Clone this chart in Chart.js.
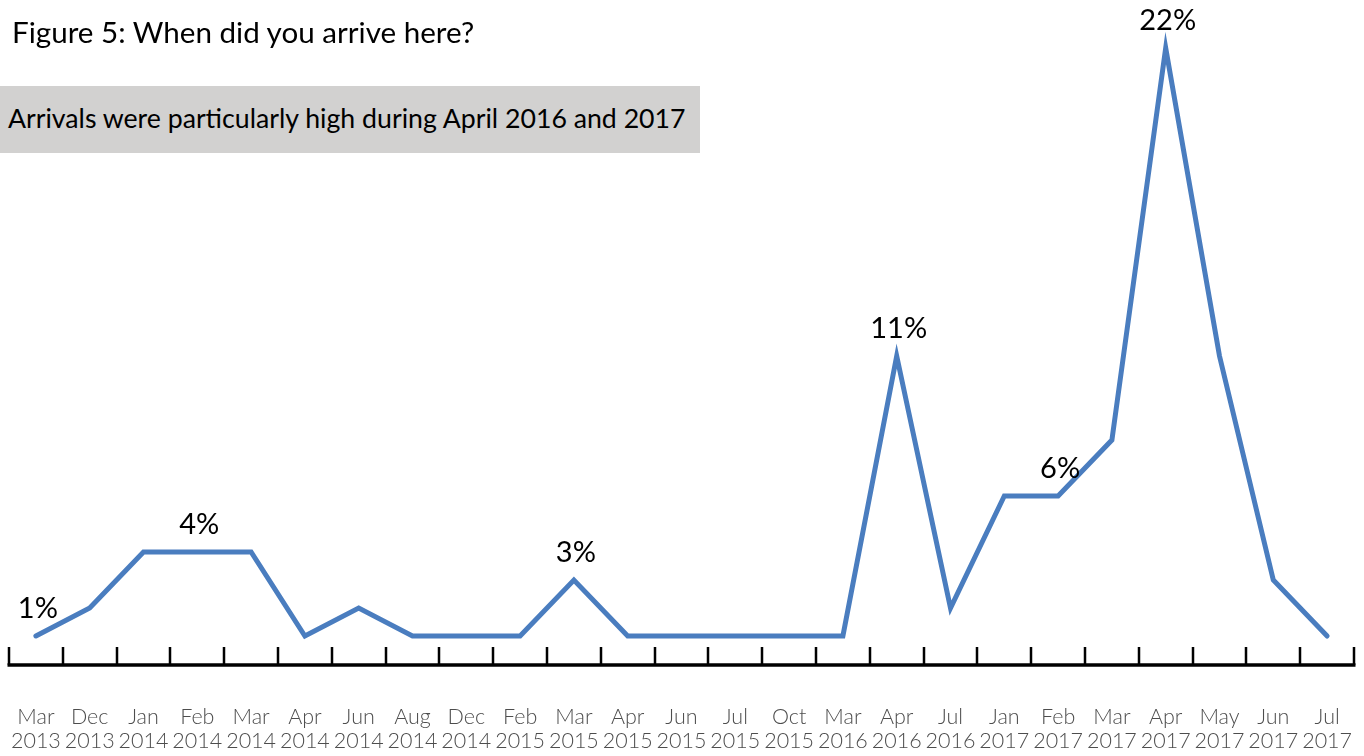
<!DOCTYPE html>
<html>
<head>
<meta charset="utf-8">
<title>Figure 5</title>
<script src="https://cdn.jsdelivr.net/npm/chart.js@4.4.1/dist/chart.umd.min.js"></script>
<style>
    body { margin: 0; background: #fff; font-family: Lato, "Open Sans", sans-serif; }
    #wrap { position: relative; width: 1364px; height: 756px; }
    #title { position: absolute; left: 12px; top: 14px; font-size: 29.6px; line-height: 36px; color: #000; }
    #note { position: absolute; left: 0; top: 86px; width: 700px; height: 67px; background: #d2d1d0;
            font-size: 26.7px; line-height: 64px; padding-left: 8px; box-sizing: border-box; color: #000; }
    canvas { position: absolute; left: 0; top: 0; }
</style>
</head>
<body>
<div id="wrap">
    <canvas id="arrivals-chart" width="1364" height="756"></canvas>
    <div id="title">Figure 5: When did you arrive here?</div>
    <div id="note">Arrivals were particularly high during April 2016 and 2017</div>
</div>
<script>
const months = ["Mar", "Dec", "Jan", "Feb", "Mar", "Apr", "Jun", "Aug", "Dec", "Feb", "Mar", "Apr", "Jun",
    "Jul", "Oct", "Mar", "Apr", "Jul", "Jan", "Feb", "Mar", "Apr", "May", "Jun", "Jul"];
const years = ["2013", "2013", "2014", "2014", "2014", "2014", "2014", "2014", "2014", "2015", "2015", "2015", "2015",
    "2015", "2015", "2016", "2016", "2016", "2017", "2017", "2017", "2017", "2017", "2017", "2017"];
// share of respondents (%) arriving in each month
const arrivals = [1, 2, 4, 4, 4, 1, 2, 1, 1, 1, 3, 1, 1, 1, 1, 1, 11, 2, 6, 6, 8, 22, 11, 3, 1];
// points that get a value label
const labelledPoints = [0, 3, 10, 16, 19, 21];

const labels = months.map((m, i) => [m, years[i]]);

// axis line with short upward ticks between the months, plus value labels
const axisAndLabels = {
    id: "axisAndLabels",
    afterDatasetsDraw(chart) {
        const ctx = chart.ctx;
        const area = chart.chartArea;
        const x = chart.scales.x;
        const step = x.getPixelForValue(1) - x.getPixelForValue(0);
        const axisY = area.bottom + 1;
        ctx.save();
        ctx.strokeStyle = "#000";
        ctx.lineCap = "butt";
        ctx.lineWidth = 3.5;
        ctx.beginPath();
        ctx.moveTo(area.left - 1.5, axisY);
        ctx.lineTo(area.right + 1.5, axisY);
        ctx.stroke();
        ctx.lineWidth = 2.5;
        ctx.beginPath();
        for (let i = 0; i <= months.length; i++) {
            const tx = Math.round(x.getPixelForValue(i) - step / 2);
            ctx.moveTo(tx, axisY);
            ctx.lineTo(tx, axisY - 18);
        }
        ctx.stroke();

        const meta = chart.getDatasetMeta(0);
        ctx.fillStyle = "#000";
        ctx.font = "29px Lato";
        ctx.textAlign = "center";
        ctx.textBaseline = "alphabetic";
        labelledPoints.forEach(i => {
            const pt = meta.data[i];
            ctx.fillText(arrivals[i] + "%", pt.x + 2, pt.y - 18);
        });
        ctx.restore();
    }
};

const ctx = document.querySelector("#arrivals-chart");
new Chart(ctx, {
    type: "line",
    data: {
        labels: labels,
        datasets: [{
            data: arrivals,
            borderColor: "#4a7dbf",
            borderWidth: 5,
            borderCapStyle: "round",
            borderJoinStyle: "miter",
            tension: 0,
            pointRadius: 0,
            fill: false
        }]
    },
    options: {
        responsive: false,
        animation: false,
        layout: {
            padding: { left: 9, right: 10, top: 20, bottom: 0 }
        },
        plugins: {
            legend: { display: false },
            tooltip: { enabled: false }
        },
        scales: {
            x: {
                offset: true,
                grid: { display: false, drawTicks: false },
                border: { display: false },
                afterFit(scale) {
                    scale.height = 92;
                    scale.paddingLeft = 0;
                    scale.paddingRight = 0;
                },
                ticks: {
                    color: "#4d4d4d",
                    font: { family: "Lato", size: 21.5, weight: 300, lineHeight: 1.12 },
                    padding: 41,
                    maxRotation: 0,
                    autoSkip: false
                }
            },
            y: {
                display: false,
                min: 0,
                max: 23
            }
        }
    },
    plugins: [axisAndLabels]
});
</script>
</body>
</html>
